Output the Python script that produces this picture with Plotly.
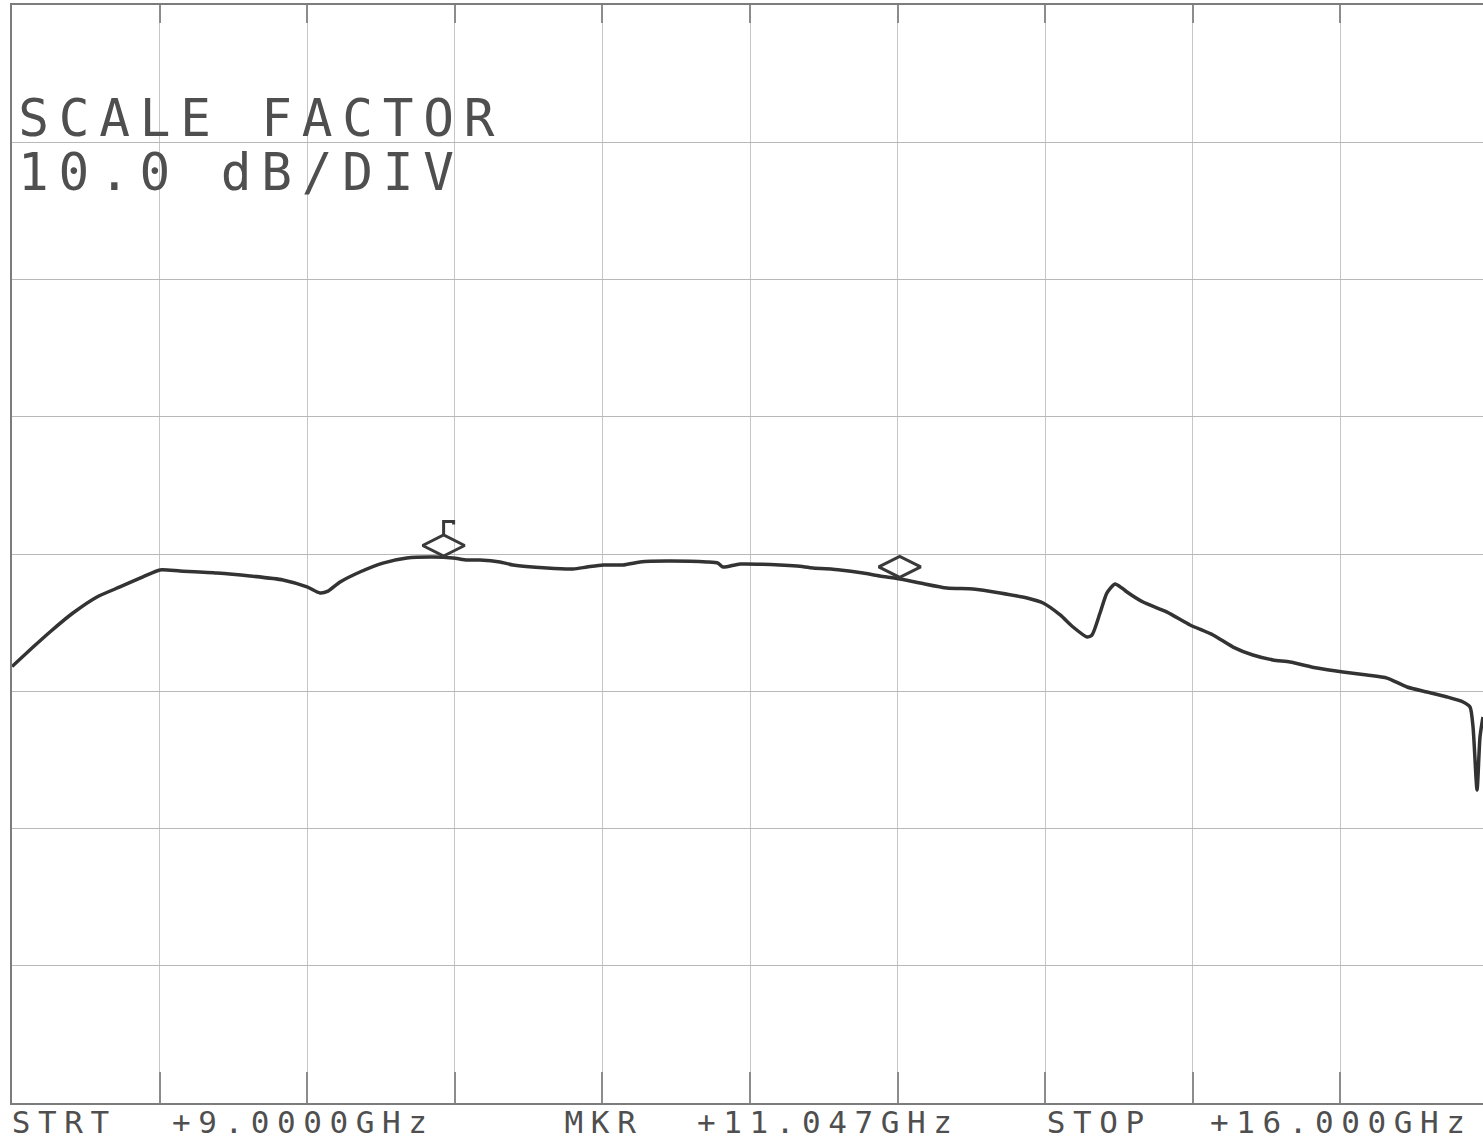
import json
import numpy as np
import plotly.graph_objects as go

# ---------------- data ----------------
freq_ghz = [9.000, 9.100, 9.180, 9.289, 9.403, 9.512, 9.621, 9.702, 9.797, 9.972,
            10.129, 10.285, 10.399, 10.461, 10.499, 10.556, 10.650, 10.759, 10.873, 10.997,
            11.091, 11.158, 11.219, 11.314, 11.376, 11.537, 11.661, 11.727, 11.803, 11.898,
            11.978, 12.106, 12.296, 12.348, 12.372, 12.453, 12.642, 12.723, 12.799, 12.927,
            13.036, 13.116, 13.211, 13.306, 13.434, 13.558, 13.686, 13.814, 13.890, 13.971,
            14.032, 14.099, 14.122, 14.160, 14.193, 14.231, 14.264, 14.288, 14.364, 14.478,
            14.587, 14.696, 14.791, 14.885, 14.980, 15.061, 15.189, 15.312, 15.426, 15.521,
            15.616, 15.711, 15.806, 15.882, 15.915, 15.929, 15.948, 15.962, 15.976]
level_db = [-48.2, -46.78, -45.68, -44.30, -43.13, -42.40, -41.67, -41.16, -41.24, -41.38,
            -41.60, -41.89, -42.40, -42.84, -42.70, -42.04, -41.31, -40.66, -40.29, -40.22,
            -40.29, -40.44, -40.44, -40.58, -40.80, -41.02, -41.09, -40.95, -40.80, -40.80,
            -40.58, -40.51, -40.58, -40.66, -40.95, -40.73, -40.80, -40.88, -41.02, -41.16,
            -41.38, -41.60, -41.82, -42.11, -42.48, -42.55, -42.84, -43.21, -43.57, -44.44,
            -45.32, -46.05, -45.90, -44.30, -42.84, -42.18, -42.48, -42.77, -43.50, -44.23,
            -45.17, -45.90, -46.78, -47.36, -47.72, -47.87, -48.31, -48.60, -48.82, -49.04,
            -49.69, -50.06, -50.42, -50.78, -51.15, -52.60, -57.19, -53.33, -51.87]

marker_freq_ghz = [11.047, 13.21]          # first one is the active marker (with flag)
ref_level_db = -40                          # reference line indicator at the left edge

header_lines = ["SCALE FACTOR", "10.0 dB/DIV"]
footer_items = ["STRT", "+9.0000GHz", "MKR", "+11.047GHz", "STOP", "+16.000GHz"]

F_START, F_STEP = 9.0, 0.7                  # GHz, 10 divisions to 16 GHz
DB_TOP, DB_STEP, N_YDIV = 0, 10, 8          # 10 dB/div

# ---------------- layout / style ----------------
W, H = 1483, 1142
ML, MR, MT, MB = 12, 0, 5, 39
PW, PH = W - ML - MR, H - MT - MB
XDIV_PX = 147.6
x_end = F_START + PW / XDIV_PX * F_STEP
GHZ_PER_PX = F_STEP / XDIV_PX
DB_PER_PX = DB_STEP * N_YDIV / PH

TRACE_C = "#333333"
GRID_C = "#c6c6c6"
AXIS_C = "#7c7c7c"
TEXT_C = "#4f4f4f"
FONT = "DejaVu Sans Mono"

fig = go.Figure()

fig.add_trace(go.Scatter(x=freq_ghz, y=level_db, mode="lines",
                         line=dict(color=TRACE_C, width=3.5, shape="spline", smoothing=0.6),
                         hoverinfo="skip", showlegend=False))

# markers: wide diamonds sitting on the trace
mk_level = np.interp(marker_freq_ghz, freq_ghz, level_db)
MK_OFF_PX = 12
mk_y = mk_level + MK_OFF_PX * DB_PER_PX
fig.add_trace(go.Scatter(x=marker_freq_ghz, y=mk_y, mode="markers",
                         marker=dict(symbol="diamond-wide-open", size=30, color="#3a3a3a",
                                     line=dict(width=3, color="#3a3a3a")),
                         hoverinfo="skip", showlegend=False))

# flag on the active marker
f0, y0 = marker_freq_ghz[0], mk_y[0]
top = y0 + 10 * DB_PER_PX
fig.add_trace(go.Scatter(
    x=[f0, f0, f0 + 10 * GHZ_PER_PX, f0 + 10 * GHZ_PER_PX],
    y=[top, top + 14 * DB_PER_PX, top + 14 * DB_PER_PX, top + 11 * DB_PER_PX],
    mode="lines", line=dict(color="#3a3a3a", width=3), hoverinfo="skip", showlegend=False))

# reference level dot outside the left edge
fig.add_trace(go.Scatter(x=[F_START - 9 * GHZ_PER_PX], y=[ref_level_db], mode="markers",
                         marker=dict(size=4, color="#555555"), cliponaxis=False,
                         hoverinfo="skip", showlegend=False))

# dummy trace for the top tick axis
fig.add_trace(go.Scatter(x=[], y=[], xaxis="x2", showlegend=False))

xt = [F_START + i * F_STEP for i in range(11)]
fig.update_layout(
    width=W, height=H, margin=dict(l=ML, r=MR, t=MT, b=MB, pad=0),
    paper_bgcolor="white", plot_bgcolor="white",
    xaxis=dict(range=[F_START, x_end], tickvals=xt, showticklabels=False,
               showgrid=True, gridcolor=GRID_C, gridwidth=1, zeroline=False,
               showline=True, linecolor=AXIS_C, linewidth=2, mirror=True,
               ticks="inside", ticklen=31, tickwidth=2, tickcolor="#8c8c8c"),
    xaxis2=dict(range=[F_START, x_end], tickvals=xt, showticklabels=False,
                overlaying="x", side="top", showgrid=False, zeroline=False,
                ticks="inside", ticklen=18, tickwidth=2, tickcolor="#8c8c8c"),
    yaxis=dict(range=[DB_TOP - DB_STEP * N_YDIV, DB_TOP], dtick=DB_STEP, showticklabels=False,
               showgrid=True, gridcolor="#b8b8b8", gridwidth=1, zeroline=False,
               showline=True, linecolor=AXIS_C, linewidth=2, mirror=False, ticks=""),
)

# ---------------- text ----------------
def px_to_paper_x(px):
    return (px - ML) / PW

def px_to_paper_y(py):
    return 1 - (py - MT) / PH

annots = []
spacings = []
hdr_pos = [(16, 118.5), (16, 172.5)]
for txt, (px, py) in zip(header_lines, hdr_pos):
    L = 9.8
    annots.append(dict(text=txt, x=px_to_paper_x(px), y=px_to_paper_y(py), xref="paper", yref="paper",
                       xanchor="left", yanchor="middle", showarrow=False,
                       xshift=len(txt) * L / 2, font=dict(family=FONT, size=51, color=TEXT_C)))
    spacings.append(L)
ftr_x = [10, 170, 563, 695, 1045, 1208]
for txt, px in zip(footer_items, ftr_x):
    L = 7.6
    annots.append(dict(text=txt, x=px_to_paper_x(px), y=px_to_paper_y(1122), xref="paper", yref="paper",
                       xanchor="left", yanchor="middle", showarrow=False,
                       xshift=len(txt) * L / 2, font=dict(family=FONT, size=31, color=TEXT_C)))
    spacings.append(L)
fig.update_layout(annotations=annots)

post = """
document.body.style.margin = '0';
document.body.style.overflow = 'hidden';
var gd = document.getElementById('{plot_id}');
var sp = %s;
gd.querySelectorAll('g.annotation').forEach(function(g){
  var i = +g.getAttribute('data-index');
  var t = g.querySelector('text');
  if (t && sp[i] !== undefined) { t.style.letterSpacing = sp[i] + 'px'; }
});
""" % json.dumps(spacings)

fig.write_html("out.html", post_script=post, config={"displayModeBar": False})
